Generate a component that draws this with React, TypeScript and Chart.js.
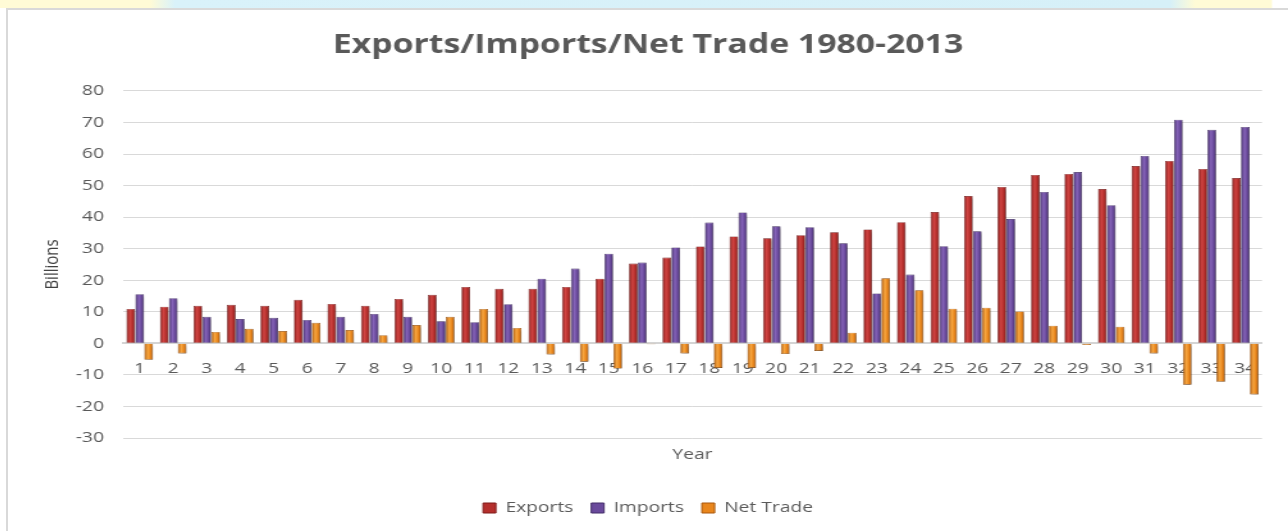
import { useEffect, useRef } from "react";
import { Chart, registerables } from "chart.js";

Chart.register(...registerables);

const years = Array.from({ length: 34 }, (_, i) => String(i + 1));

const exportsData = [10.9, 11.6, 11.9, 12.2, 11.9, 13.8, 12.5, 11.9, 14.1, 15.4, 17.9, 17.3, 17.3, 17.9, 20.5, 25.3, 27.2, 30.7, 33.9, 33.3, 34.3, 35.2, 36.1, 38.4, 41.6, 46.7, 49.6, 53.4, 53.7, 48.9, 56.2, 57.8, 55.3, 52.4];
const importsData = [15.6, 14.3, 8.4, 7.7, 8.1, 7.4, 8.4, 9.3, 8.4, 7.0, 6.7, 12.4, 20.5, 23.7, 28.4, 25.6, 30.4, 38.3, 41.5, 37.1, 36.8, 31.7, 15.8, 21.8, 30.8, 35.5, 39.4, 48.0, 54.3, 43.8, 59.4, 70.9, 67.7, 68.6];
const netTradeData = [-5.2, -3.2, 3.6, 4.6, 3.9, 6.5, 4.2, 2.6, 5.8, 8.4, 10.9, 4.9, -3.5, -5.8, -8.0, -0.3, -3.2, -7.8, -7.8, -3.4, -2.4, 3.4, 20.6, 16.8, 11.0, 11.3, 10.1, 5.6, -0.5, 5.3, -3.2, -13.1, -12.2, -16.2];

const yMin = -30;
const yMax = 80;
const yStep = 10;

const titleText = "Exports/Imports/Net Trade 1980-2013";
const xTitle = "Year";
const yTitle = "Billions";

const SX = 1.28;
const W = 1000;
const H = 521;
const CP = 0.8;
const BP = 0.97;
const FONT = "'Open Sans', sans-serif";
const GREY = "#595959";

// [dark edge, light centre, solid]
const shades: [string, string, string][] = [
  ["#7E1A19", "#D04442", "#B52F2C"],
  ["#432D68", "#8563B8", "#6A4A9C"],
  ["#A9570C", "#F7A640", "#E9861C"],
];

const barFill = (ctx: any) => {
  const s = shades[ctx.datasetIndex] || shades[0];
  const chart = ctx.chart;
  const xs = chart.scales && chart.scales.x;
  if (!xs || ctx.type !== "data" || !(xs.right > xs.left)) return s[2];
  const catW = (xs.right - xs.left) / years.length;
  const slot = (catW * CP) / 3;
  const bw = slot * BP;
  const center = xs.getPixelForValue(ctx.dataIndex) + (ctx.datasetIndex - 1) * slot;
  const g = chart.ctx.createLinearGradient(center - bw / 2, 0, center + bw / 2, 0);
  g.addColorStop(0, s[0]);
  g.addColorStop(0.4, s[1]);
  g.addColorStop(0.7, s[2]);
  g.addColorStop(1, s[0]);
  return g;
};

const barShadow = {
  id: "barShadow",
  beforeDatasetsDraw(chart: any) {
    const c = chart.ctx;
    c.save();
    c.shadowColor = "rgba(0,0,0,0.28)";
    c.shadowBlur = 3;
    c.shadowOffsetX = 1.5;
    c.shadowOffsetY = 2;
  },
  afterDatasetsDraw(chart: any) {
    chart.ctx.restore();
  },
};

export default function App() {
  const ref = useRef<HTMLCanvasElement>(null);

  useEffect(() => {
    const chart = new Chart(ref.current!, {
      type: "bar",
      data: {
        labels: years,
        datasets: [
          { label: "Exports", data: exportsData, backgroundColor: barFill, borderColor: "#6E1716", borderWidth: 0.6 },
          { label: "Imports", data: importsData, backgroundColor: barFill, borderColor: "#3A2659", borderWidth: 0.6 },
          { label: "Net Trade", data: netTradeData, backgroundColor: barFill, borderColor: "#8F4A0A", borderWidth: 0.6 },
        ],
      },
      plugins: [barShadow],
      options: {
        responsive: false,
        animation: false,
        devicePixelRatio: 1,
        categoryPercentage: CP,
        barPercentage: BP,
        layout: { padding: { left: 0, right: 0, top: 0, bottom: 5.5 } },
        plugins: {
          title: {
            display: true,
            text: titleText,
            color: GREY,
            font: { family: FONT, size: 26.4, weight: "bold" },
            padding: { top: 19.2, bottom: 30.1 },
          },
          legend: {
            position: "bottom",
            labels: {
              color: GREY,
              font: { family: FONT, size: 15 },
              boxWidth: 10,
              boxHeight: 10,
              padding: 14,
              generateLabels: (c: any) =>
                Chart.defaults.plugins.legend.labels.generateLabels(c).map((l: any, i: number) => ({
                  ...l,
                  fillStyle: shades[i][2],
                  strokeStyle: shades[i][0],
                  lineWidth: 1,
                })),
            },
          },
          tooltip: { enabled: false },
        },
        scales: {
          x: {
            grid: { display: false },
            border: { display: false },
            ticks: { display: false },
            title: {
              display: true,
              text: xTitle,
              color: GREY,
              font: { family: FONT, size: 15 },
              padding: { top: 0, bottom: 22.5 },
            },
          },
          x2: {
            type: "category",
            labels: years,
            position: { y: 0 },
            offset: true,
            grid: { display: false },
            border: { display: true, color: "#d4d4d4", width: 2 },
            ticks: { color: GREY, font: { family: FONT, size: 15 }, padding: 8, maxRotation: 0, autoSkip: false },
          },
          y: {
            min: yMin,
            max: yMax,
            ticks: { stepSize: yStep, color: GREY, font: { family: FONT, size: 15 }, padding: 14.8 },
            grid: { color: "#d9d9d9", drawTicks: false },
            border: { display: false },
            title: {
              display: true,
              text: yTitle,
              color: "#404040",
              font: { family: FONT, size: 15 },
              padding: { top: 26.2, bottom: 0 },
            },
            afterFit: (scale: any) => {
              scale.width = 89.8;
            },
          },
          yRight: {
            position: "right",
            min: yMin,
            max: yMax,
            grid: { display: false },
            border: { display: false },
            ticks: { display: false },
            afterFit: (scale: any) => {
              scale.width = 20.3;
            },
          },
        },
      },
    } as any);
    return () => chart.destroy();
  }, []);

  return (
    <div style={{ position: "fixed", left: 0, top: 0, width: 1288, height: 531, overflow: "hidden", background: "#fff" }}>
      <div
        style={{
          position: "absolute",
          left: 0,
          top: 0,
          width: 1288,
          height: 8,
          background:
            "linear-gradient(to right, #fffbd6 0px, #fffbd6 150px, #d9f2fa 175px, #d6f0f8 1170px, #fffbd6 1195px, #fffbd6 1271px, #ffffff 1273px)",
        }}
      />
      <div
        style={{
          position: "absolute",
          left: 6,
          top: 8,
          width: 1290,
          height: 530,
          borderLeft: "2px solid #d9d9d9",
          borderTop: "2px solid #d9d9d9",
          background: "#fff",
        }}
      />
      <div style={{ position: "absolute", left: 8, top: 10, width: W, height: H, transform: `scaleX(${SX})`, transformOrigin: "0 0" }}>
        <canvas ref={ref} width={W} height={H} style={{ display: "block", width: W, height: H }} />
      </div>
    </div>
  );
}
